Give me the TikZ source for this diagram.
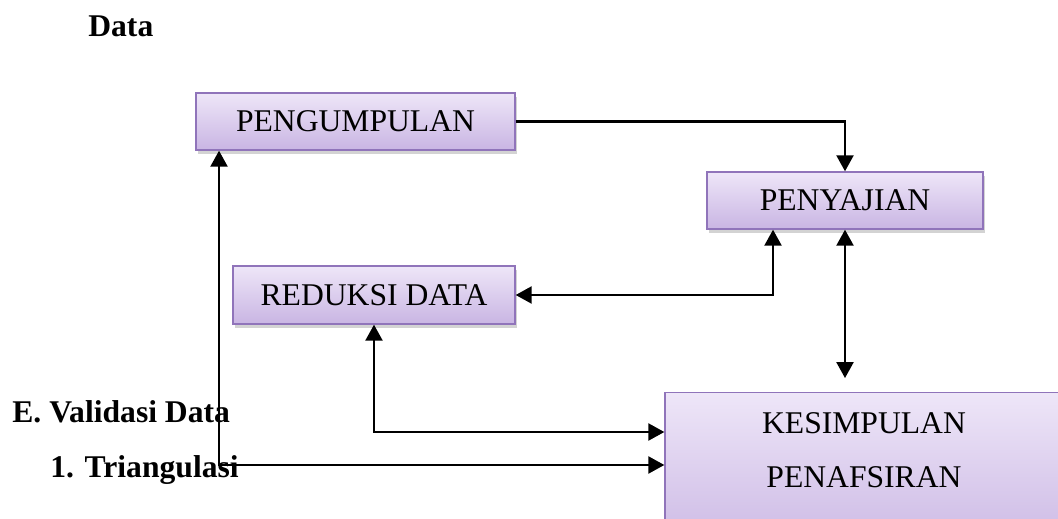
\documentclass[tikz,border=0pt]{standalone}
\usepackage{fontspec}
\setmainfont{Liberation Serif}
\usetikzlibrary{arrows.meta, shadows}
\definecolor{stagetop}{HTML}{EEE6F8}
\definecolor{stagebot}{HTML}{C9B5E3}
\definecolor{stageline}{HTML}{9074BA}
\tikzset{
  stage/.style={draw=stageline, line width=0.8pt, top color=stagetop, bottom color=stagebot,
      drop shadow={shadow xshift=0.04cm, shadow yshift=-0.08cm, opacity=0.35},
      inner sep=0pt, align=center, font=\fontsize{18}{30.7}\selectfont},
  link/.style={line width=1.3pt, -{Triangle[width=0.34cm, length=0.32cm]}},
  twolink/.style={line width=1.3pt, {Triangle[width=0.34cm, length=0.32cm]}-{Triangle[width=0.34cm, length=0.32cm]}},
  heading/.style={anchor=base west, inner sep=0pt, font=\fontsize{18}{22}\selectfont\bfseries},
}

\begin{document}
\begin{tikzpicture}[x=0.02cm, y=-0.02cm]
  \useasboundingbox (0,0) rectangle (1058,519);
  \clip (0,0) rectangle (1058,519);
  \node[heading] (judul) at (88,37) {Data};
  \node[heading] (validasi) at (12,423) {E. Validasi Data};
  \node[heading] (triangulasi) at (50,478) {1. Triangulasi};
  \node[stage, minimum width=6.38cm, minimum height=1.14cm] (kumpul) at (355.5,121.5) {PENGUMPULAN};
  \node[stage, minimum width=5.52cm, minimum height=1.14cm] (saji) at (845,200.5) {PENYAJIAN};
  \node[stage, minimum width=5.64cm, minimum height=1.16cm] (reduksi) at (374,295) {REDUKSI DATA};
  \node[stage, minimum width=7.96cm, minimum height=3.37cm] (simpul) at (864,477) {KESIMPULAN\\PENAFSIRAN\\\mbox{}};
  \draw[link] (kumpul.east) -| (saji.north);
  \draw[twolink] (reduksi.east) -| ([xshift=-1.44cm]saji.south);
  \draw[twolink, shorten >=0.28cm] (saji.south) -- (saji.south |- simpul.north);
  \draw[twolink] (reduksi.south) |- ([yshift=0.9cm]simpul.west);
  \draw[twolink] ([xshift=-2.73cm]kumpul.south) |- ([yshift=0.24cm]simpul.west);
\end{tikzpicture}
\end{document}
